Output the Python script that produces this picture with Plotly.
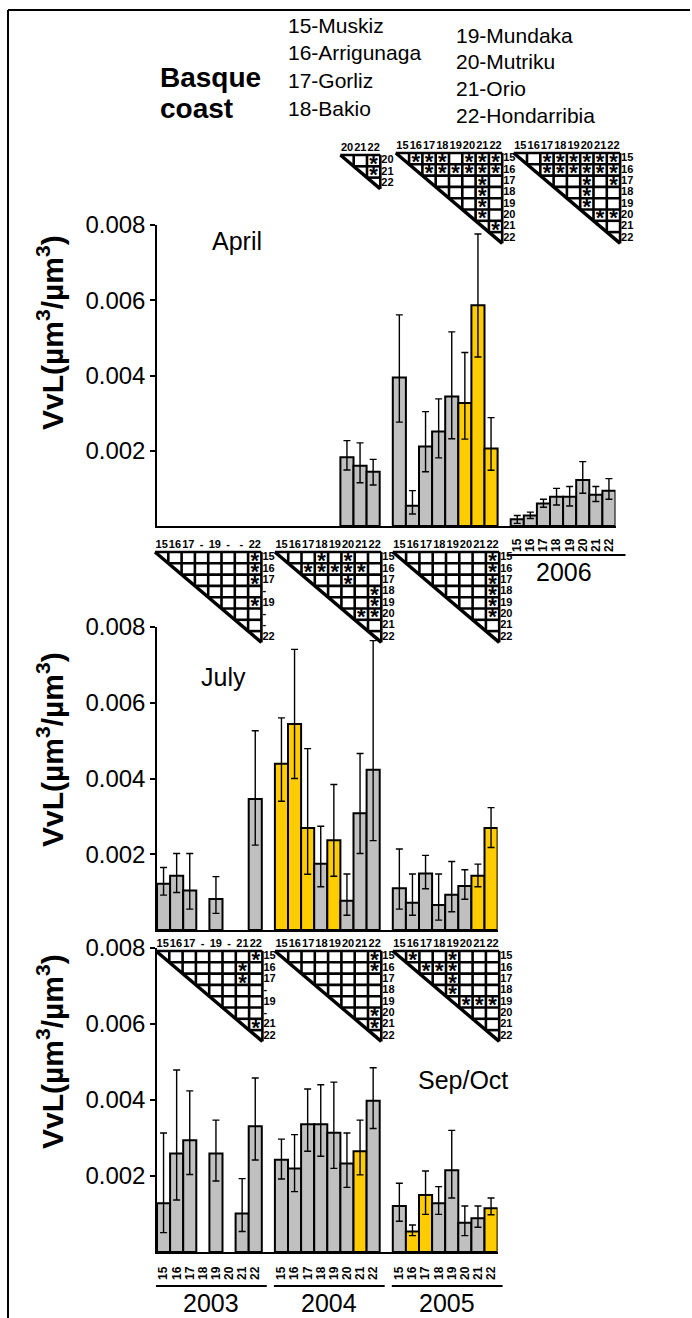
import plotly.graph_objects as go

FONT = "Liberation Sans"
W, H = 692, 1318
N = None

sites = ['15', '16', '17', '18', '19', '20', '21', '22']
legend_left = ['15-Muskiz', '16-Arrigunaga', '17-Gorliz', '18-Bakio']
legend_right = ['19-Mundaka', '20-Mutriku', '21-Orio', '22-Hondarribia']
yticks = [0.002, 0.004, 0.006, 0.008]
ytick_text = ['0.002', '0.004', '0.006', '0.008']

# ---------------- April ----------------
apr_years = ['2003', '2004', '2005', '2006']
apr_2003_mean = [N, N, N, N, N, N, N, N]
apr_2003_hi = [N, N, N, N, N, N, N, N]
apr_2003_lo = [N, N, N, N, N, N, N, N]
apr_2003_yel = [0, 0, 0, 0, 0, 0, 0, 0]
apr_2004_mean = [N, N, N, N, N, 0.00183, 0.00160, 0.00144]
apr_2004_hi = [N, N, N, N, N, 0.00227, 0.00221, 0.00177]
apr_2004_lo = [N, N, N, N, N, 0.00149, 0.00115, 0.00109]
apr_2004_yel = [0, 0, 0, 0, 0, 0, 0, 0]
apr_2005_mean = [0.00395, 0.00054, 0.00211, 0.00251, 0.00344, 0.00327, 0.00587, 0.00206]
apr_2005_hi = [0.00561, 0.00094, 0.00304, 0.00338, 0.00516, 0.00461, 0.00776, 0.00288]
apr_2005_lo = [0.00276, 0.00032, 0.00144, 0.00181, 0.00232, 0.00231, 0.00449, 0.00148]
apr_2005_yel = [0, 0, 0, 0, 0, 1, 1, 1]
apr_2006_mean = [0.00018, 0.00028, 0.00060, 0.00078, 0.00078, 0.00122, 0.00083, 0.00094]
apr_2006_hi = [0.00028, 0.00037, 0.00071, 0.00100, 0.00105, 0.00171, 0.00105, 0.00126]
apr_2006_lo = [0.00007, 0.00020, 0.00050, 0.00056, 0.00053, 0.00087, 0.00065, 0.00071]
apr_2006_yel = [0, 0, 0, 0, 0, 0, 0, 0]

# ---------------- July ----------------
jul_years = ['2003', '2004', '2005']
jul_2003_mean = [0.00122, 0.00143, 0.00104, N, 0.00082, N, N, 0.00346]
jul_2003_hi = [0.00165, 0.00202, 0.00202, N, 0.00141, N, N, 0.00526]
jul_2003_lo = [0.00092, 0.00099, 0.00055, N, 0.00044, N, N, 0.00224]
jul_2003_yel = [0, 0, 0, 0, 0, 0, 0, 0]
jul_2004_mean = [0.00439, 0.00544, 0.00269, 0.00175, 0.00237, 0.00077, 0.00308, 0.00423]
jul_2004_hi = [0.00560, 0.00741, 0.00479, 0.00274, 0.00384, 0.00148, 0.00466, 0.00764]
jul_2004_lo = [0.00340, 0.00400, 0.00147, 0.00114, 0.00142, 0.00039, 0.00202, 0.00236]
jul_2004_yel = [1, 1, 1, 0, 1, 0, 0, 0]
jul_2005_mean = [0.00110, 0.00072, 0.00149, 0.00066, 0.00093, 0.00116, 0.00143, 0.00269]
jul_2005_hi = [0.00214, 0.00148, 0.00197, 0.00148, 0.00181, 0.00159, 0.00174, 0.00323]
jul_2005_lo = [0.00055, 0.00039, 0.00109, 0.00026, 0.00048, 0.00081, 0.00114, 0.00218]
jul_2005_yel = [0, 0, 0, 0, 0, 0, 1, 1]

# ---------------- Sep/Oct ----------------
sep_years = ['2003', '2004', '2005']
sep_2003_mean = [0.00128, 0.00259, 0.00294, N, 0.00259, N, 0.00101, 0.00331]
sep_2003_hi = [0.00313, 0.00479, 0.00424, N, 0.00347, N, 0.00193, 0.00458]
sep_2003_lo = [0.00051, 0.00137, 0.00204, N, 0.00187, N, 0.00054, 0.00242]
sep_2003_yel = [0, 0, 0, 0, 0, 0, 0, 0]
sep_2004_mean = [0.00243, 0.00220, 0.00336, 0.00336, 0.00314, 0.00233, 0.00265, 0.00398]
sep_2004_hi = [0.00297, 0.00309, 0.00429, 0.00440, 0.00447, 0.00313, 0.00347, 0.00485]
sep_2004_lo = [0.00192, 0.00159, 0.00265, 0.00252, 0.00220, 0.00170, 0.00203, 0.00325]
sep_2004_yel = [0, 0, 0, 0, 0, 0, 1, 0]
sep_2005_mean = [0.00121, 0.00054, 0.00150, 0.00128, 0.00215, 0.00077, 0.00089, 0.00115]
sep_2005_hi = [0.00181, 0.00071, 0.00213, 0.00172, 0.00320, 0.00121, 0.00121, 0.00142]
sep_2005_lo = [0.00081, 0.00043, 0.00099, 0.00099, 0.00142, 0.00043, 0.00065, 0.00098]
sep_2005_yel = [0, 1, 1, 0, 0, 0, 0, 1]

# ---------------- pairwise significance (row site, column site) ----------------
sig_apr_2004 = [('20', '22'), ('21', '22')]
sig_apr_2005 = [('15', '16'), ('15', '17'), ('15', '18'), ('15', '20'), ('15', '21'), ('15', '22'),
                ('16', '17'), ('16', '18'), ('16', '19'), ('16', '20'), ('16', '21'), ('16', '22'),
                ('17', '21'), ('18', '21'), ('19', '21'), ('20', '21'), ('21', '22')]
sig_apr_2006 = [('15', '17'), ('15', '18'), ('15', '19'), ('15', '20'), ('15', '21'), ('15', '22'),
                ('16', '17'), ('16', '18'), ('16', '19'), ('16', '20'), ('16', '21'), ('16', '22'),
                ('17', '20'), ('17', '22'), ('18', '20'), ('19', '20'), ('20', '21'), ('20', '22')]
sig_jul_2003 = [('15', '22'), ('16', '22'), ('17', '22'), ('19', '22')]
sig_jul_2004 = [('15', '18'), ('15', '20'), ('16', '17'), ('16', '18'), ('16', '19'), ('16', '20'),
                ('16', '21'), ('17', '20'), ('18', '22'), ('19', '22'), ('20', '21'), ('20', '22')]
sig_jul_2005 = [('15', '22'), ('16', '22'), ('17', '22'), ('18', '22'), ('19', '22'), ('20', '22')]
sig_sep_2003 = [('15', '22'), ('16', '21'), ('17', '21'), ('21', '22')]
sig_sep_2004 = [('15', '22'), ('16', '22'), ('20', '22'), ('21', '22')]
sig_sep_2005 = [('15', '16'), ('15', '19'), ('16', '17'), ('16', '18'), ('16', '19'), ('17', '19'),
                ('18', '19'), ('19', '20'), ('19', '21'), ('19', '22')]

lab_full = sites
lab_jul_2003 = ['15', '16', '17', '-', '19', '-', '-', '22']
lab_sep_2003 = ['15', '16', '17', '-', '19', '-', '21', '22']
lab_apr_2004 = ['20', '21', '22']

# ---------------- layout constants ----------------
X0 = 157.0      # pixel of left axis
U = 13.1        # pixel per bar slot
GAP = 9         # slots per year group
GRAY = '#c0c0c0'
YEL = '#ffcc00'


def px(xv):
    return X0 + (xv + 0.5) * U


def ydom(bottom_px, top_px):
    return [1 - bottom_px / H, 1 - top_px / H]


fig = go.Figure()

panels = [
    dict(years=apr_years,
         means=[apr_2003_mean, apr_2004_mean, apr_2005_mean, apr_2006_mean],
         his=[apr_2003_hi, apr_2004_hi, apr_2005_hi, apr_2006_hi],
         los=[apr_2003_lo, apr_2004_lo, apr_2005_lo, apr_2006_lo],
         yels=[apr_2003_yel, apr_2004_yel, apr_2005_yel, apr_2006_yel],
         xa='x', ya='y'),
    dict(years=jul_years,
         means=[jul_2003_mean, jul_2004_mean, jul_2005_mean],
         his=[jul_2003_hi, jul_2004_hi, jul_2005_hi],
         los=[jul_2003_lo, jul_2004_lo, jul_2005_lo],
         yels=[jul_2003_yel, jul_2004_yel, jul_2005_yel],
         xa='x2', ya='y2'),
    dict(years=sep_years,
         means=[sep_2003_mean, sep_2004_mean, sep_2005_mean],
         his=[sep_2003_hi, sep_2004_hi, sep_2005_hi],
         los=[sep_2003_lo, sep_2004_lo, sep_2005_lo],
         yels=[sep_2003_yel, sep_2004_yel, sep_2005_yel],
         xa='x3', ya='y3'),
]

for p in panels:
    xs, ys, ep, em, cols = [], [], [], [], []
    for g, yr in enumerate(p['years']):
        for i in range(len(sites)):
            m = p['means'][g][i]
            if m is None:
                continue
            xs.append(g * GAP + i)
            ys.append(m)
            ep.append(p['his'][g][i] - m)
            em.append(m - p['los'][g][i])
            cols.append(YEL if p['yels'][g][i] else GRAY)
    fig.add_trace(go.Bar(
        x=xs, y=ys, width=1.0, xaxis=p['xa'], yaxis=p['ya'],
        marker=dict(color=cols, line=dict(color='black', width=2)),
        error_y=dict(type='data', symmetric=False, array=ep, arrayminus=em,
                     color='black', thickness=1.4, width=3.5),
        showlegend=False, hoverinfo='skip'))

# ---------------- triangles (significance matrices) ----------------
CW = 13.3
CH = 11.3
# (panel, group index, first site index, row/col labels, sig pairs, dx, top px)
triangles = [
    (0, 1, 5, lab_apr_2004, sig_apr_2004, 0, 155),
    (0, 2, 0, lab_full, sig_apr_2005, 3, 153),
    (0, 3, 0, lab_full, sig_apr_2006, 3, 153),
    (1, 0, 0, lab_jul_2003, sig_jul_2003, -2, 552),
    (1, 1, 0, lab_full, sig_jul_2004, 0, 552),
    (1, 2, 0, lab_full, sig_jul_2005, 0, 552),
    (2, 0, 0, lab_sep_2003, sig_sep_2003, -1, 951),
    (2, 1, 0, lab_full, sig_sep_2004, 0, 951),
    (2, 2, 0, lab_full, sig_sep_2005, 0, 951),
]

grid_x, grid_y, diag_x, diag_y = [], [], [], []
ast_x, ast_y = [], []
hdr_x, hdr_y, hdr_t = [], [], []
row_x, row_y, row_t = [], [], []
for (pi, g, s0, labs, sig, dx, top) in triangles:
    n = len(labs)
    x0 = px(g * GAP + s0 - 0.5) + dx
    y0 = top
    xr = x0 + n * CW
    for k in range(n):
        grid_x += [x0 + k * CW, xr, None]
        grid_y += [y0 + k * CH, y0 + k * CH, None]
    for k in range(1, n + 1):
        grid_x += [x0 + k * CW, x0 + k * CW, None]
        grid_y += [y0, y0 + k * CH, None]
    diag_x += [x0, xr, None]
    diag_y += [y0, y0 + n * CH, None]
    site_list = sites[s0:s0 + n]
    for (r, c) in sig:
        ri = site_list.index(r)
        ci = site_list.index(c)
        ast_x.append(x0 + (ci + 0.5) * CW)
        ast_y.append(y0 + (ri + 0.5) * CH + 4.8)
    for k, t in enumerate(labs):
        hdr_x.append(x0 + (k + 0.5) * CW)
        hdr_y.append(y0 - 7)
        hdr_t.append(t)
        row_x.append(xr + 1)
        row_y.append(y0 + (k + 0.5) * CH)
        row_t.append(t)

# frame lines
frame_x = [8, 8, None, 8, 690]
frame_y = [H, 10, None, 10, 10]

# year lines under tick labels
yr_x, yr_y = [], []
year_ann = []
for g, yr in enumerate(sep_years):
    a = px(g * GAP - 0.5) - 1
    b = px(g * GAP + 7.5) + 5
    yr_x += [a, b, None]
    yr_y += [1286, 1286, None]
    year_ann.append(((a + b) / 2, 1303, yr))
a = px(3 * GAP - 0.5) - 4
b = px(3 * GAP + 7.5) + 10
yr_x += [a, b, None]
yr_y += [555, 555, None]
year_ann.append(((a + b) / 2 - 2, 572, apr_years[3]))

fig.add_trace(go.Scatter(x=grid_x, y=grid_y, mode='lines', xaxis='x4', yaxis='y4',
                         line=dict(color='black', width=2.6), showlegend=False, hoverinfo='skip'))
fig.add_trace(go.Scatter(x=diag_x, y=diag_y, mode='lines', xaxis='x4', yaxis='y4',
                         line=dict(color='black', width=3.4), showlegend=False, hoverinfo='skip'))
fig.add_trace(go.Scatter(x=frame_x + [None] + yr_x, y=frame_y + [None] + yr_y, mode='lines',
                         xaxis='x4', yaxis='y4',
                         line=dict(color='black', width=2), showlegend=False, hoverinfo='skip'))
fig.add_trace(go.Scatter(x=ast_x, y=ast_y, mode='text', text=['*'] * len(ast_x),
                         textposition='middle center', xaxis='x4', yaxis='y4',
                         textfont=dict(family=FONT, size=22, color='black', weight='bold'),
                         showlegend=False, hoverinfo='skip'))
fig.add_trace(go.Scatter(x=hdr_x, y=hdr_y, mode='text', text=hdr_t,
                         textposition='middle center', xaxis='x4', yaxis='y4',
                         textfont=dict(family=FONT, size=11, color='black', weight='bold'),
                         showlegend=False, hoverinfo='skip'))
fig.add_trace(go.Scatter(x=row_x, y=row_y, mode='text', text=row_t,
                         textposition='middle right', xaxis='x4', yaxis='y4',
                         textfont=dict(family=FONT, size=11, color='black', weight='bold'),
                         showlegend=False, hoverinfo='skip'))

# ---------------- axes ----------------
dx0 = X0 / W
dx_apr = (X0 + 35 * U) / W
dx_js = (X0 + 26 * U) / W
tickf = dict(family=FONT, size=24, color='black')
common_y = dict(range=[0, 0.008], showline=True, linecolor='black', linewidth=1.5,
                ticks='outside', ticklen=5, tickwidth=1.5, tickcolor='black',
                tickvals=yticks, ticktext=ytick_text, tickfont=tickf, automargin=False,
                showgrid=False, zeroline=False, fixedrange=True)
common_x = dict(showline=True, linecolor='black', linewidth=1.5, showgrid=False,
                zeroline=False, fixedrange=True, ticks='', automargin=False)
xlabf = dict(family=FONT, size=12, color='black', weight='bold')

apr_tv = [3 * GAP + i for i in range(8)]
sep_tv = [g * GAP + i for g in range(3) for i in range(8)]

fig.update_layout(
    template='none',
    width=W, height=H, margin=dict(l=0, r=0, t=0, b=0, pad=0, autoexpand=False),
    autosize=False,
    paper_bgcolor='white', plot_bgcolor='rgba(0,0,0,0)',
    font=dict(family=FONT, color='black'), showlegend=False,
    xaxis=dict(common_x, domain=[dx0, dx_apr], range=[-0.5, 34.5], anchor='y',
               tickvals=apr_tv, ticktext=sites, tickangle=-90, tickfont=xlabf,
               ticklabelstandoff=6),
    yaxis=dict(common_y, domain=ydom(526, 225), anchor='x'),
    xaxis2=dict(common_x, domain=[dx0, dx_js], range=[-0.5, 25.5], anchor='y2',
                showticklabels=False),
    yaxis2=dict(common_y, domain=ydom(930, 627), anchor='x2'),
    xaxis3=dict(common_x, domain=[dx0, dx_js], range=[-0.5, 25.5], anchor='y3',
                tickvals=sep_tv, ticktext=sites * 3, tickangle=-90, tickfont=xlabf,
                ticklabelstandoff=8),
    yaxis3=dict(common_y, domain=ydom(1252, 948), anchor='x3'),
    xaxis4=dict(domain=[0, 1], range=[0, W], anchor='y4', visible=False, fixedrange=True,
                automargin=False),
    yaxis4=dict(domain=[0, 1], range=[H, 0], anchor='x4', visible=False, fixedrange=True,
                automargin=False),
)

ann = []
ytitle = 'VvL(µm<sup>3</sup>/µm<sup>3</sup>)'
for yc in (333, 750, 1052):
    ann.append(dict(x=50, y=yc, xref='x4', yref='y4', text='<b>' + ytitle + '</b>',
                    textangle=-90, showarrow=False, font=dict(family=FONT, size=30)))
ann.append(dict(x=237, y=241, xref='x4', yref='y4', text='April', showarrow=False,
                font=dict(family=FONT, size=25)))
ann.append(dict(x=223, y=677, xref='x4', yref='y4', text='July', showarrow=False,
                font=dict(family=FONT, size=25)))
ann.append(dict(x=463, y=1080, xref='x4', yref='y4', text='Sep/Oct', showarrow=False,
                font=dict(family=FONT, size=25)))
ann.append(dict(x=158, y=77, xref='x4', yref='y4', text='<b>Basque</b>', showarrow=False,
                xanchor='left', font=dict(family=FONT, size=28)))
ann.append(dict(x=158, y=108, xref='x4', yref='y4', text='<b>coast</b>', showarrow=False,
                xanchor='left', font=dict(family=FONT, size=28)))
for k, t in enumerate(legend_left):
    ann.append(dict(x=286, y=25 + k * 27.8, xref='x4', yref='y4', text=t, showarrow=False,
                    xanchor='left', font=dict(family=FONT, size=21)))
for k, t in enumerate(legend_right):
    ann.append(dict(x=454, y=35 + k * 26.7, xref='x4', yref='y4', text=t, showarrow=False,
                    xanchor='left', font=dict(family=FONT, size=21)))
for (xc, yc, t) in year_ann:
    ann.append(dict(x=xc, y=yc, xref='x4', yref='y4', text=t, showarrow=False,
                    font=dict(family=FONT, size=25)))
fig.update_layout(annotations=ann)

fig.write_html(
    "out.html",
    config={'responsive': False, 'displayModeBar': False},
    post_script="document.body.style.margin='0';document.body.style.padding='0';"
                "document.documentElement.style.overflow='hidden';",
)
